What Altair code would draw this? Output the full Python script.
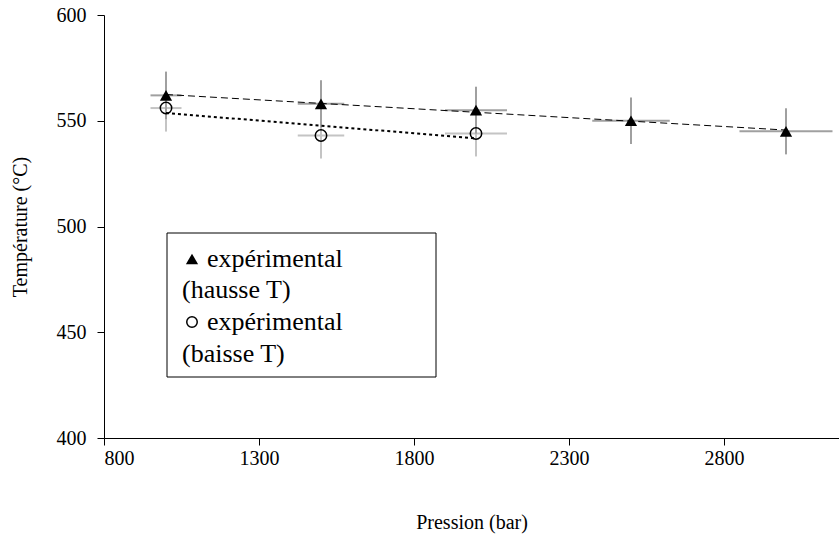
import altair as alt
import pandas as pd

# ---- data ----
pression_hausse = [1000, 1500, 2000, 2500, 3000]
temp_hausse = [562, 558, 555, 550, 545]
pression_baisse = [1000, 1500, 2000]
temp_baisse = [556, 543, 544]
err_x_pct = 0.05   # horizontal error bars: 5 % of pressure
err_y_pct = 0.02   # vertical error bars: 2 % of temperature
x_ticks = [800, 1300, 1800, 2300, 2800]
y_ticks = [400, 450, 500, 550, 600]
legend_lines = ["expérimental", "(hausse T)", "expérimental", "(baisse T)"]
x_title = "Pression (bar)"
y_title = "Température (°C)"

df_h = pd.DataFrame({"P": pression_hausse, "T": temp_hausse})
df_b = pd.DataFrame({"P": pression_baisse, "T": temp_baisse})

FONT = "Liberation Serif"
PAD_L, PAD_T = 104, 15
W, H = 735, 423

x_scale = alt.Scale(domain=[800, 3171], nice=False, zero=False)
y_scale = alt.Scale(domain=[400, 600], nice=False, zero=False)
x_axis = alt.Axis(values=x_ticks, title=x_title, grid=False, format="d",
                  domainColor="black", tickColor="black", tickSize=7,
                  labelPadding=3, titlePadding=44, labelFontSize=20,
                  titleFontSize=20, labelFont=FONT, titleFont=FONT,
                  labelColor="black", titleColor="black", titleFontWeight="normal")
y_axis = alt.Axis(values=y_ticks, title=y_title, grid=False, format="d",
                  domainColor="black", tickColor="black", tickSize=7,
                  labelPadding=11, titlePadding=26, labelFontSize=20,
                  titleFontSize=20, labelFont=FONT, titleFont=FONT,
                  labelColor="black", titleColor="black", titleFontWeight="normal")


def X(field):
    return alt.X(field, type="quantitative", scale=x_scale, axis=x_axis)


def Y(field):
    return alt.Y(field, type="quantitative", scale=y_scale, axis=y_axis)


def errbars(df, color, width):
    base = alt.Chart(df).transform_calculate(
        xlo=f"datum.P*(1-{err_x_pct})", xhi=f"datum.P*(1+{err_x_pct})",
        ylo=f"datum.T*(1-{err_y_pct})", yhi=f"datum.T*(1+{err_y_pct})")
    h = base.mark_rule(color=color, strokeWidth=width).encode(
        x=X("xlo"), x2="xhi:Q", y=Y("T"))
    v = base.mark_rule(color=color, strokeWidth=width).encode(
        x=X("P"), y=Y("ylo"), y2="yhi:Q")
    return h + v


def trend(df, dash, width):
    return alt.Chart(df).transform_regression("P", "T").mark_line(
        color="black", strokeDash=dash, strokeWidth=width).encode(x=X("P"), y=Y("T"))


err_b = errbars(df_b, "#c4c4c4", 2)
err_h = errbars(df_h, "#a0a0a0", 2)
line_h = trend(df_h, [7, 4], 1)
line_b = trend(df_b, [3, 3], 2)

pts_h = alt.Chart(df_h).mark_point(shape="triangle-up", filled=True, color="black",
                                   size=150, opacity=1).encode(x=X("P"), y=Y("T"))
pts_b = alt.Chart(df_b).mark_point(shape="circle", filled=False, color="black",
                                   strokeWidth=1.5, size=130, opacity=1).encode(x=X("P"), y=Y("T"))

# ---- legend box (drawn in pixel space of the plot area) ----
one = pd.DataFrame({"k": [0]})
box = alt.Chart(one).mark_rect(fill="white", stroke="black", strokeWidth=1).encode(
    x=alt.value(167 - PAD_L), x2=alt.value(436 - PAD_L),
    y=alt.value(233 - PAD_T), y2=alt.value(377 - PAD_T))
sym_h = alt.Chart(one).mark_point(shape="triangle-up", filled=True, color="black",
                                  size=150, opacity=1).encode(
    x=alt.value(192 - PAD_L), y=alt.value(259 - PAD_T))
sym_b = alt.Chart(one).mark_point(shape="circle", filled=False, color="black",
                                  strokeWidth=1.5, size=110, opacity=1).encode(
    x=alt.value(192 - PAD_L), y=alt.value(322 - PAD_T))

legend_pos = [(207, 259), (182, 290), (207, 322), (182, 354)]
texts = []
for line, (lx, ly) in zip(legend_lines, legend_pos):
    texts.append(alt.Chart(pd.DataFrame({"label": [line]})).mark_text(
        align="left", baseline="middle", font=FONT, fontSize=26, color="black").encode(
        text="label:N", x=alt.value(lx - PAD_L), y=alt.value(ly - PAD_T)))

chart = alt.layer(err_b, err_h, line_h, line_b, pts_h, pts_b, box, sym_h, sym_b, *texts).properties(
    width=W, height=H,
    padding={"left": PAD_L, "top": PAD_T, "right": 0, "bottom": 540 - PAD_T - H},
    autosize=alt.AutoSizeParams(type="none"),
    background="white",
).configure_view(stroke=None)

chart.save("out.html", embed_options={"renderer": "svg", "actions": False})
